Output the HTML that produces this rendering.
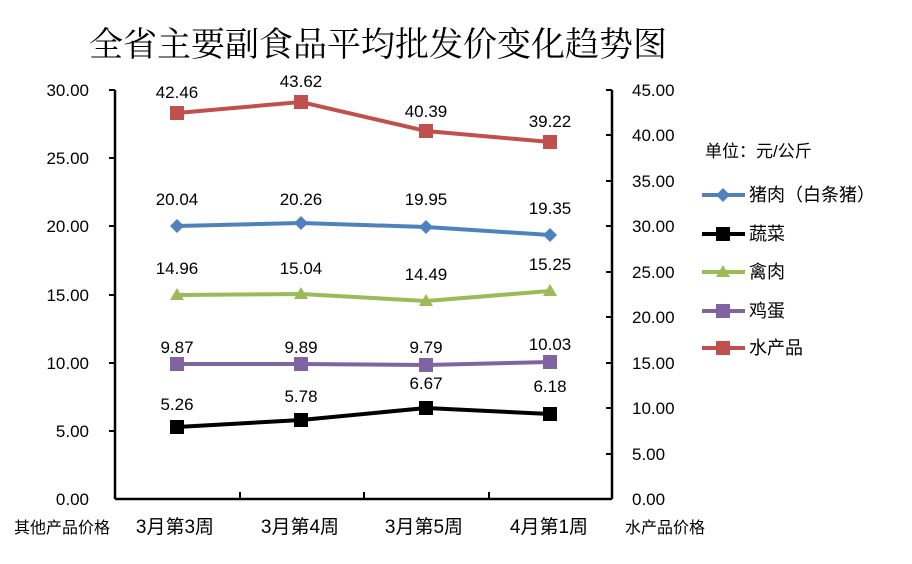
<!DOCTYPE html>
<html><head><meta charset="utf-8"><style>
html,body{margin:0;padding:0;background:#fff;}
svg text{font-family:"Liberation Sans","Noto Sans CJK SC",sans-serif;fill:#000;}
</style></head><body>
<svg width="912" height="559" viewBox="0 0 912 559" xmlns="http://www.w3.org/2000/svg">
<rect width="912" height="559" fill="#fff"/>
<text x="378" y="56" font-size="34" text-anchor="middle" style="font-family:'Noto Serif CJK SC','Noto Sans CJK SC',serif">全省主要副食品平均批发价变化趋势图</text>
<g stroke="#000" stroke-width="2.5" fill="none">
<line x1="115" y1="90" x2="115" y2="499"/>
<line x1="612" y1="90" x2="612" y2="499"/>
<line x1="115" y1="499" x2="612" y2="499"/>
</g>
<g stroke="#000" stroke-width="2">
<line x1="109" y1="90" x2="115" y2="90"/><line x1="109" y1="158" x2="115" y2="158"/><line x1="109" y1="226" x2="115" y2="226"/><line x1="109" y1="295" x2="115" y2="295"/><line x1="109" y1="363" x2="115" y2="363"/><line x1="109" y1="431" x2="115" y2="431"/>
<line x1="606" y1="90" x2="612" y2="90"/><line x1="606" y1="135" x2="612" y2="135"/><line x1="606" y1="181" x2="612" y2="181"/><line x1="606" y1="226" x2="612" y2="226"/><line x1="606" y1="272" x2="612" y2="272"/><line x1="606" y1="317" x2="612" y2="317"/><line x1="606" y1="363" x2="612" y2="363"/><line x1="606" y1="408" x2="612" y2="408"/><line x1="606" y1="454" x2="612" y2="454"/>
<line x1="240" y1="492" x2="240" y2="499"/><line x1="364" y1="492" x2="364" y2="499"/><line x1="489" y1="492" x2="489" y2="499"/>
</g>
<g font-size="17" text-anchor="end">
<text x="89" y="96">30.00</text><text x="89" y="164">25.00</text><text x="89" y="232">20.00</text><text x="89" y="301">15.00</text><text x="89" y="369">10.00</text><text x="89" y="437">5.00</text><text x="89" y="505">0.00</text>
</g>
<g font-size="17">
<text x="632" y="96">45.00</text><text x="632" y="141">40.00</text><text x="632" y="187">35.00</text><text x="632" y="232">30.00</text><text x="632" y="278">25.00</text><text x="632" y="323">20.00</text><text x="632" y="369">15.00</text><text x="632" y="414">10.00</text><text x="632" y="460">5.00</text><text x="632" y="505">0.00</text>
</g>
<g font-size="16">
<text x="14" y="533">其他产品价格</text>
<text x="625" y="533">水产品价格</text>
</g>
<g font-size="19" text-anchor="middle">
<text x="175" y="533">3月第3周</text>
<text x="300" y="533">3月第4周</text>
<text x="424" y="533">3月第5周</text>
<text x="549" y="533">4月第1周</text>
</g>
<polyline points="177,113 301,102 426,131 550,142" fill="none" stroke="#c0504d" stroke-width="4"/>
<g fill="#c0504d"><rect x="170" y="106" width="14" height="14"/><rect x="294" y="95" width="14" height="14"/><rect x="419" y="124" width="14" height="14"/><rect x="543" y="135" width="14" height="14"/></g>
<polyline points="177,226 301,223 426,227 550,235" fill="none" stroke="#4f81bd" stroke-width="4"/>
<g fill="#4f81bd"><polygon points="177,219 184,226 177,233 170,226"/><polygon points="301,216 308,223 301,230 294,223"/><polygon points="426,220 433,227 426,234 419,227"/><polygon points="550,228 557,235 550,242 543,235"/></g>
<polyline points="177,295 301,294 426,301 550,291" fill="none" stroke="#9bbb59" stroke-width="4"/>
<g fill="#9bbb59"><polygon points="177,288 184,300 170,300"/><polygon points="301,287 308,299 294,299"/><polygon points="426,294 433,306 419,306"/><polygon points="550,284 557,296 543,296"/></g>
<polyline points="177,364 301,364 426,365 550,362" fill="none" stroke="#8064a2" stroke-width="4"/>
<g fill="#8064a2"><rect x="170" y="357" width="14" height="14"/><rect x="294" y="357" width="14" height="14"/><rect x="419" y="358" width="14" height="14"/><rect x="543" y="355" width="14" height="14"/></g>
<polyline points="177,427 301,420 426,408 550,414" fill="none" stroke="#000" stroke-width="4"/>
<g fill="#000"><rect x="170" y="420" width="14" height="14"/><rect x="294" y="413" width="14" height="14"/><rect x="419" y="401" width="14" height="14"/><rect x="543" y="407" width="14" height="14"/></g>
<g font-size="17" text-anchor="middle">
<text x="177" y="98">42.46</text><text x="301" y="87">43.62</text><text x="426" y="117">40.39</text><text x="550" y="127">39.22</text>
<text x="177" y="205">20.04</text><text x="301" y="205">20.26</text><text x="426" y="205">19.95</text><text x="550" y="214">19.35</text>
<text x="177" y="274">14.96</text><text x="301" y="274">15.04</text><text x="426" y="280">14.49</text><text x="550" y="270">15.25</text>
<text x="177" y="353">9.87</text><text x="301" y="353">9.89</text><text x="426" y="353">9.79</text><text x="550" y="350">10.03</text>
<text x="177" y="410">5.26</text><text x="301" y="402">5.78</text><text x="426" y="389">6.67</text><text x="550" y="392">6.18</text>
</g>
<text x="705" y="157" font-size="17">单位：元/公斤</text>
<g stroke-width="4">
<line x1="702" y1="195" x2="745" y2="195" stroke="#4f81bd"/>
<line x1="702" y1="234" x2="745" y2="234" stroke="#000"/>
<line x1="702" y1="272" x2="745" y2="272" stroke="#9bbb59"/>
<line x1="702" y1="311" x2="745" y2="311" stroke="#8064a2"/>
<line x1="702" y1="348" x2="745" y2="348" stroke="#c0504d"/>
</g>
<polygon points="723,188 730,195 723,202 716,195" fill="#4f81bd"/>
<rect x="716" y="227" width="14" height="14" fill="#000"/>
<polygon points="723,265 730,277 716,277" fill="#9bbb59"/>
<rect x="716" y="304" width="14" height="14" fill="#8064a2"/>
<rect x="716" y="341" width="14" height="14" fill="#c0504d"/>
<g font-size="18">
<text x="749" y="201">猪肉（白条猪）</text>
<text x="749" y="240">蔬菜</text>
<text x="749" y="278">禽肉</text>
<text x="749" y="317">鸡蛋</text>
<text x="749" y="354">水产品</text>
</g>
</svg>
</body></html>
